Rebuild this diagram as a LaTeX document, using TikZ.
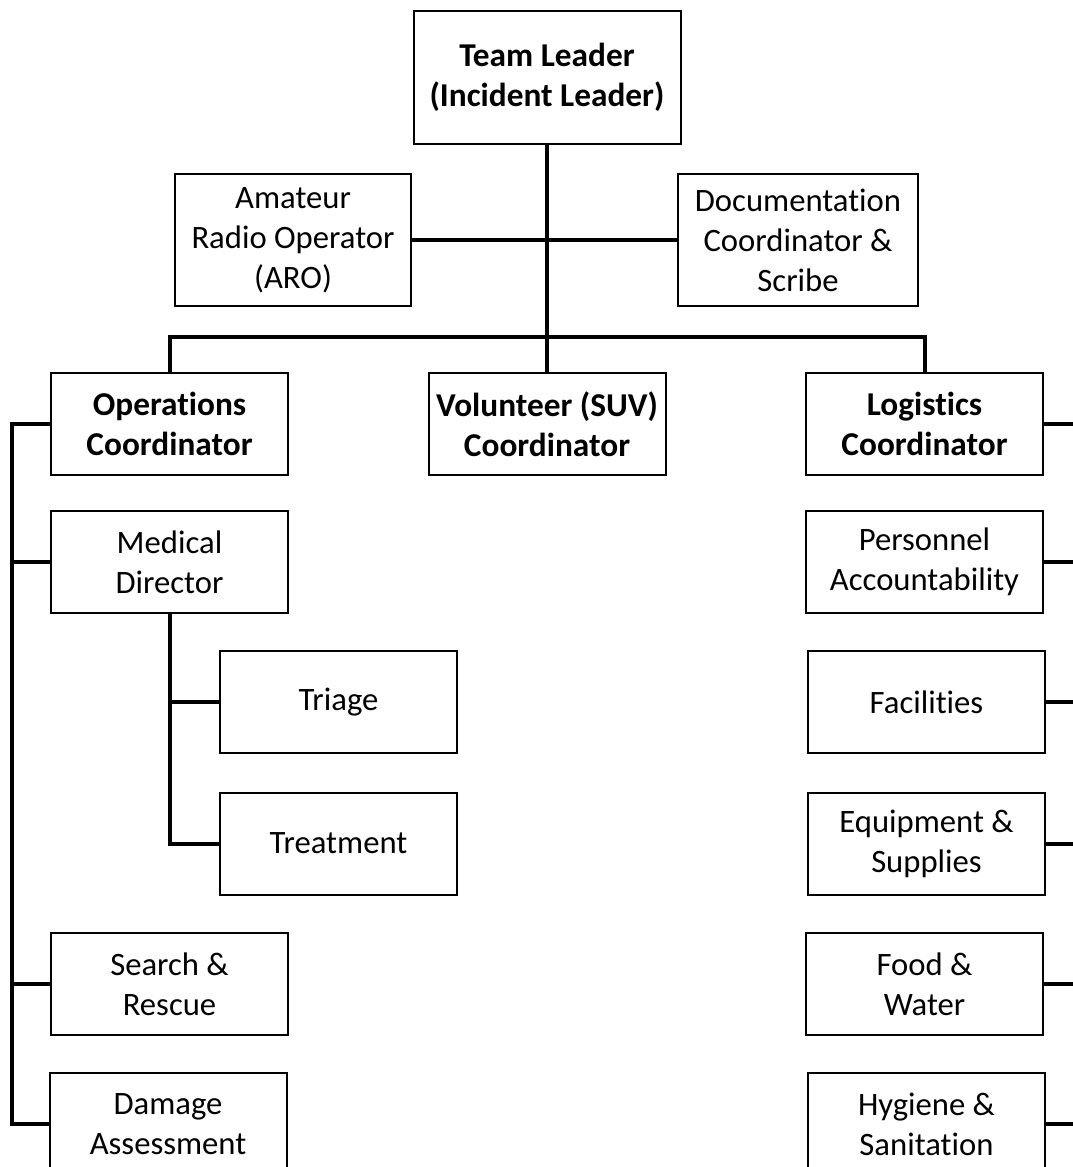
\documentclass[tikz,border=0pt]{standalone}
\usepackage{fontspec}
\setmainfont{Carlito}[Ligatures=NoCommon]
\begin{document}
\begin{tikzpicture}[x=0.75pt,y=-0.75pt,
  box/.style={draw=black,line width=1.5pt,fill=white,align=center,inner sep=0pt,
    font=\fontsize{24.5}{30}\selectfont,minimum width=237*0.75pt,minimum height=102*0.75pt},
  boldbox/.style={box,font=\fontsize{25}{30}\selectfont\bfseries},
  conn/.style={draw=black,line width=3pt,line join=miter}]
\useasboundingbox (0,0) rectangle (1073,1167);
\clip (0,0) rectangle (1073,1167);

% top of the chart
\node[boldbox,minimum width=267*0.75pt,minimum height=133*0.75pt] (TL) at (547,77.5) {Team Leader\\(Incident Leader)};
\node[box,minimum width=236*0.75pt,minimum height=132*0.75pt] (ARO) at (293,240) {Amateur\\Radio Operator\\(ARO)};
\node[box,minimum width=240*0.75pt,minimum height=132*0.75pt] (Doc) at (798,240) {Documentation\\Coordinator \&\\Scribe};

% coordinators
\node[boldbox] (Ops) at (169.5,424) {Operations\\Coordinator};
\node[boldbox] (Vol) at (547,424) {Volunteer (SUV)\\Coordinator};
\node[boldbox] (Log) at (924.5,424) {Logistics\\Coordinator};

% operations branch
\node[box] (Med) at (169.5,562) {Medical\\Director};
\node[box] (Tri) at (338.5,702) {Triage};
\node[box] (Trt) at (338.5,843.5) {Treatment};
\node[box] (SAR) at (169.5,984) {Search \&\\Rescue};
\node[box] (Dmg) at (168,1124) {Damage\\Assessment};

% logistics branch
\node[box] (Per) at (924.5,562) {Personnel\\Accountability};
\node[box] (Fac) at (926.5,702) {Facilities};
\node[box] (Eqp) at (926.5,843.5) {Equipment \&\\Supplies};
\node[box] (Food) at (924.5,984) {Food \&\\Water};
\node[box] (Hyg) at (926.5,1124) {Hygiene \&\\Sanitation};

% helper coordinates for the buses
\coordinate (bus) at (547,337);
\coordinate (spine) at (12,0);
\coordinate (edge) at (1090,0);

% connectors
\draw[conn] (TL.south) -- (Vol.north);
\draw[conn] (ARO.east) -- (Doc.west);
\draw[conn] (Ops.north) -- (Ops.north |- bus) -- (Log.north |- bus) -- (Log.north);

\draw[conn] (Ops.west) -- (Ops.west -| spine) -- (Dmg.west -| spine) -- (Dmg.west);
\draw[conn] (Med.west) -- (Med.west -| spine);
\draw[conn] (SAR.west) -- (SAR.west -| spine);

\draw[conn] (Med.south) -- (Med.south |- Trt.west) -- (Trt.west);
\draw[conn] (Tri.west) -- (Tri.west -| Med.south);

\draw[conn] (Log.east) -- (Log.east -| edge);
\draw[conn] (Per.east) -- (Per.east -| edge);
\draw[conn] (Fac.east) -- (Fac.east -| edge);
\draw[conn] (Eqp.east) -- (Eqp.east -| edge);
\draw[conn] (Food.east) -- (Food.east -| edge);
\draw[conn] (Hyg.east) -- (Hyg.east -| edge);
\end{tikzpicture}
\end{document}
